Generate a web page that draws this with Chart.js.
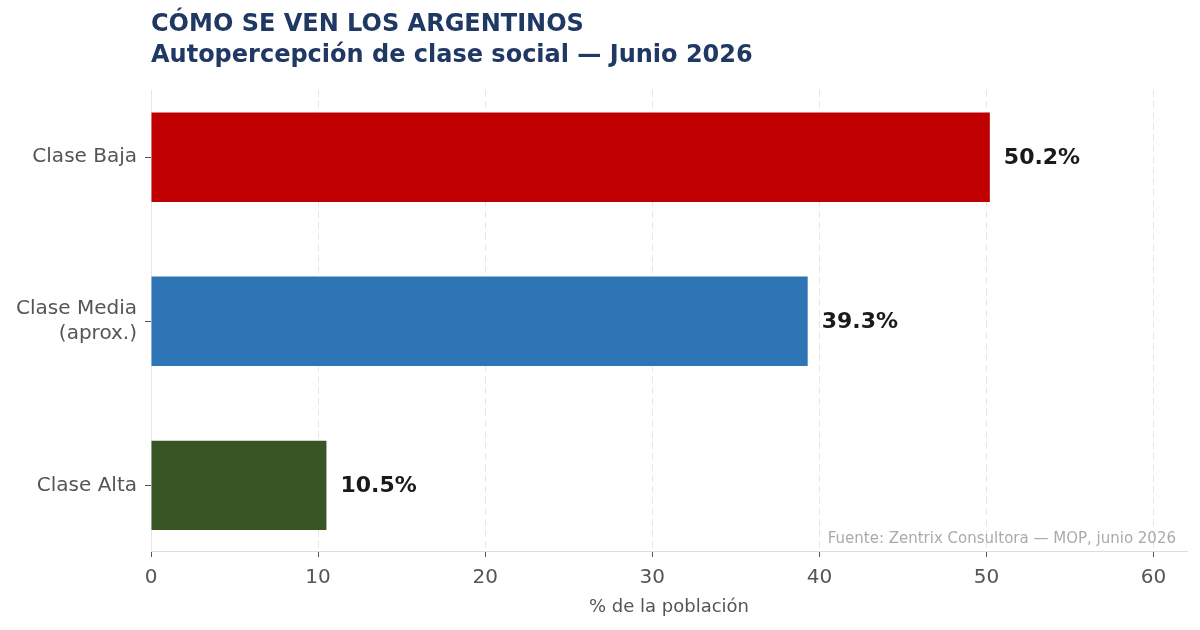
<!DOCTYPE html>
<html>
<head>
<meta charset="utf-8">
<script src="https://cdn.jsdelivr.net/npm/chart.js@4.4.1/dist/chart.umd.min.js"></script>
<style>
  html, body { margin: 0; padding: 0; background: #fff; }
  #wrap { width: 1200px; height: 630px; }
</style>
</head>
<body>
<div id="wrap"><canvas id="chart" width="1200" height="630"></canvas></div>
<script>
// Data
const categories = [['Clase Baja'], ['Clase Media', '(aprox.)'], ['Clase Alta']];
const values = [50.2, 39.3, 10.5];
const barColors = ['#c00000', '#2e75b6', '#375623'];
const xTicks = [0, 10, 20, 30, 40, 50, 60];

const titleLines = ['CÓMO SE VEN LOS ARGENTINOS', 'Autopercepción de clase social — Junio 2026'];
const sourceText = 'Fuente: Zentrix Consultora — MOP, junio 2026';

const FONT = "'DejaVu Sans', sans-serif";

// title, value labels and source note
const decorations = {
    id: 'decorations',
    afterDraw(chart) {
        const ctx = chart.ctx;
        const area = chart.chartArea;
        ctx.save();

        ctx.fillStyle = '#1f3864';
        ctx.font = 'bold 24px ' + FONT;
        ctx.textAlign = 'left';
        ctx.textBaseline = 'middle';
        ctx.fillText(titleLines[0], area.left, 25);
        ctx.fillText(titleLines[1], area.left, 56);

        const meta = chart.getDatasetMeta(0);
        ctx.fillStyle = '#1a1a1a';
        ctx.font = 'bold 22px ' + FONT;
        meta.data.forEach((bar, i) => {
            ctx.fillText(values[i].toFixed(1) + '%', bar.x + 14, bar.y + 1);
        });

        ctx.fillStyle = '#aaaaaa';
        ctx.font = '15px ' + FONT;
        ctx.textAlign = 'right';
        ctx.fillText(sourceText, area.right - 11, area.bottom - 12);
        ctx.restore();
    }
};

new Chart(document.getElementById('chart'), {
    type: 'bar',
    data: {
        datasets: [{
            data: values.map((v, i) => ({ x: v, y: i })),
            backgroundColor: barColors,
            borderWidth: 0,
            categoryPercentage: 1,
            barPercentage: 0.545
        }]
    },
    options: {
        indexAxis: 'y',
        responsive: false,
        animation: false,
        layout: { padding: { top: 90, right: 13, left: 0, bottom: 12 } },
        plugins: {
            legend: { display: false },
            tooltip: { enabled: false }
        },
        scales: {
            x: {
                type: 'linear',
                min: 0,
                max: 62,
                afterBuildTicks: (scale) => { scale.ticks = xTicks.map(v => ({ value: v })); },
                afterFit: (scale) => { scale.height = 67; },
                grid: {
                    color: '#e6e6e6',
                    tickColor: '#555',
                    tickLength: 6
                },
                border: { color: '#dddddd', dash: [7, 4] },
                ticks: {
                    color: '#555',
                    font: { family: FONT, size: 20 },
                    padding: 9
                },
                title: {
                    display: true,
                    text: '% de la población',
                    color: '#555',
                    font: { family: FONT, size: 18 },
                    padding: { top: 2, bottom: 0 }
                }
            },
            y: {
                type: 'linear',
                offset: false,
                min: -0.41,
                max: 2.4,
                reverse: true,
                afterBuildTicks: (scale) => { scale.ticks = categories.map((c, i) => ({ value: i })); },
                afterFit: (scale) => { scale.width = 151; },
                grid: {
                    offset: false,
                    drawOnChartArea: false,
                    tickColor: '#555',
                    tickLength: 6
                },
                border: { color: '#e6e6e6' },
                ticks: {
                    color: '#555',
                    font: { family: FONT, size: 20, lineHeight: 1.25 },
                    padding: 8,
                    callback: (v) => categories[v]
                }
            }
        }
    },
    plugins: [decorations]
});
</script>
</body>
</html>
